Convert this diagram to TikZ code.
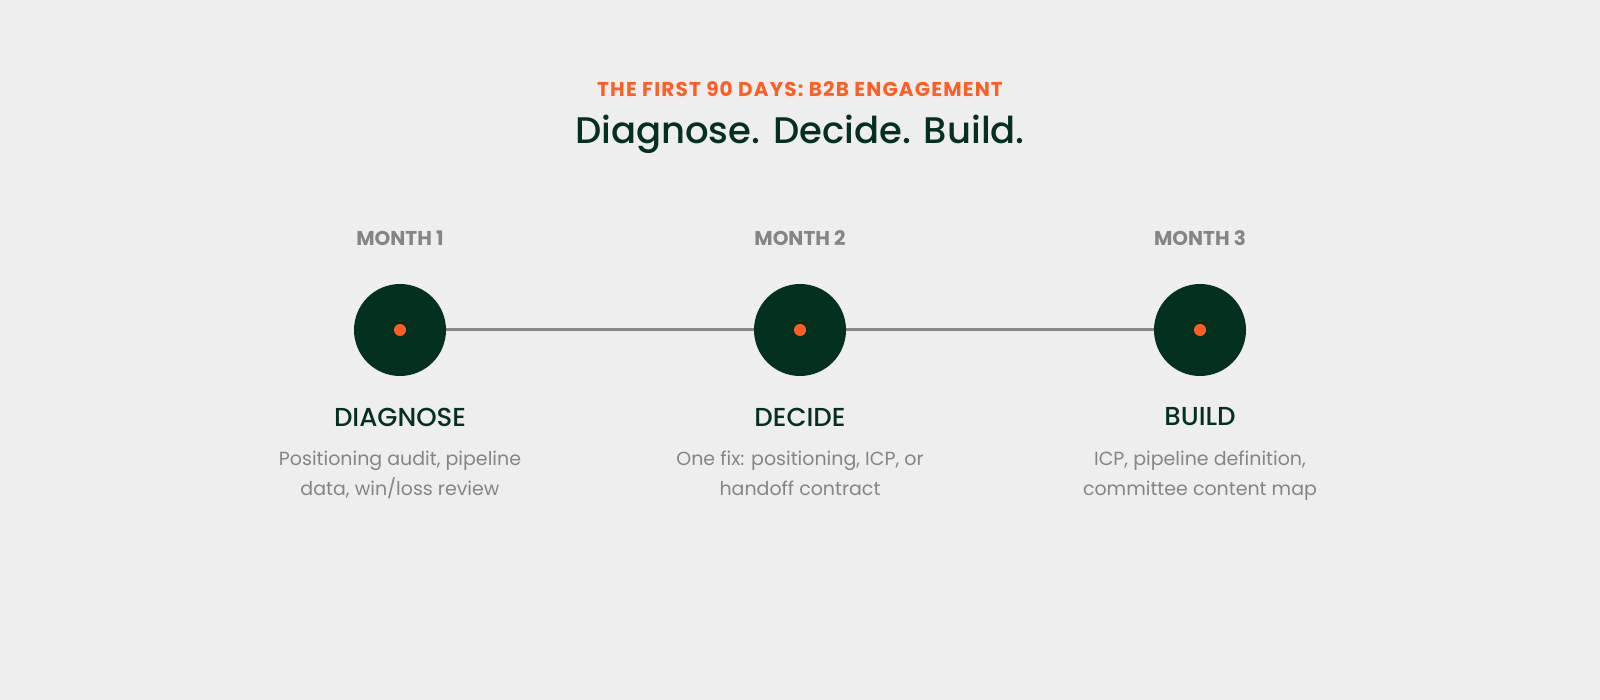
\documentclass[tikz,border=0pt]{standalone}
\usepackage{fontspec}
\setmainfont{Poppins}
\newfontfamily\medfont{Poppins Medium}
\newfontfamily\trackfont{Poppins}[LetterSpace=5.8]
\usepackage{xcolor}
\usepackage{tikz}

\definecolor{bgcol}{HTML}{EEEEEE}
\definecolor{pine}{HTML}{03301F}
\definecolor{ember}{HTML}{FF5F24}
\definecolor{ash}{HTML}{858585}
\definecolor{railcol}{HTML}{888888}

\tikzset{
  month/.style={font=\fontsize{20}{24}\selectfont\bfseries, text=ash},
  phase/.style={font=\fontsize{26}{30}\selectfont\medfont, text=pine},
  blurb/.style={font=\fontsize{19}{30}\selectfont, text=ash, align=center, anchor=base},
  stop/.style={circle, fill=pine, minimum size=92pt, inner sep=0pt},
  spark/.style={circle, fill=ember, minimum size=12pt, inner sep=0pt}
}

\begin{document}
\begin{tikzpicture}[x=1pt,y=1pt]
\fill[bgcol] (0,0) rectangle (1600,-700);
\useasboundingbox (0,0) rectangle (1600,-700);
% Titolo
\node (kicker) at (800,-89) [font=\fontsize{20}{24}\selectfont\trackfont\bfseries, text=ember] {THE FIRST 90 DAYS: B2B ENGAGEMENT};
\node (head) at (800,-144) [anchor=base, font=\fontsize{37}{42}\selectfont\medfont, text=pine] {Diagnose. Decide. Build.};

% Linea del tempo
\node (c1) at (400,-330) [stop] {};
\node (c2) at (800,-330) [stop] {};
\node (c3) at (1200,-330) [stop] {};
\draw[railcol, line width=3pt] (c1) -- (c2);
\draw[railcol, line width=3pt] (c2) -- (c3);
\node (s1) at (c1) [spark] {};
\node (s2) at (c2) [spark] {};
\node (s3) at (c3) [spark] {};

% Mese 1
\node (m1) at (400,-238) [month] {MONTH 1};
\node (p1) at (400,-417) [phase] {DIAGNOSE};
\node (b1) at (400,-495) [blurb] {Positioning audit, pipeline\\data, win/loss review};
% Mese 2
\node (m2) at (800,-238) [month] {MONTH 2};
\node (p2) at (800,-417) [phase] {DECIDE};
\node (b2) at (800,-495) [blurb] {One fix: positioning, ICP, or\\handoff contract};
% Mese 3
\node (m3) at (1200,-238) [month] {MONTH 3};
\node (p3) at (1200,-417) [phase] {BUILD};
\node (b3) at (1200,-495) [blurb] {ICP, pipeline definition,\\committee content map};
\end{tikzpicture}
\end{document}
